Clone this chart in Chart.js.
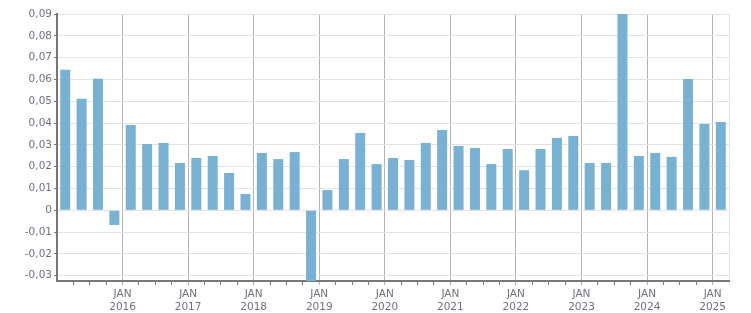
<!DOCTYPE html>
<html><head><meta charset="utf-8">
<script src="https://cdn.jsdelivr.net/npm/chart.js@4/dist/chart.umd.min.js"></script>
<style>html,body{margin:0;padding:0;background:#fff}#wrap{width:751px;height:313px}</style>
</head><body><div id="wrap"><canvas id="c" width="751" height="313"></canvas></div>
<script>
// Quarters 2015 Q1 .. 2025 Q1 (index = quarters since Jan 2015)
const quarters = ['2015Q1','2015Q2','2015Q3','2015Q4','2016Q1','2016Q2','2016Q3','2016Q4','2017Q1','2017Q2','2017Q3','2017Q4','2018Q1','2018Q2','2018Q3','2018Q4','2019Q1','2019Q2','2019Q3','2019Q4','2020Q1','2020Q2','2020Q3','2020Q4','2021Q1','2021Q2','2021Q3','2021Q4','2022Q1','2022Q2','2022Q3','2022Q4','2023Q1','2023Q2','2023Q3','2023Q4','2024Q1','2024Q2','2024Q3','2024Q4','2025Q1'];
const values = [0.0644,0.0511,0.0603,-0.0067,0.0391,0.0304,0.0309,0.0217,0.0240,0.0249,0.0171,0.0075,0.0263,0.0235,0.0267,-0.036,0.0093,0.0235,0.0355,0.0212,0.0240,0.0231,0.0309,0.0368,0.0295,0.0286,0.0212,0.0281,0.0184,0.0281,0.0332,0.0341,0.0217,0.0217,0.0905,0.0249,0.0263,0.0245,0.0602,0.0396,0.0405];
const yTicks = [-0.03,-0.02,-0.01,0,0.01,0.02,0.03,0.04,0.05,0.06,0.07,0.08,0.09];
const yMin = -0.0324, yMax = 0.09;
const xYearTicks = [4,8,12,16,20,24,28,32,36,40];
const xYearLabels = ['2016','2017','2018','2019','2020','2021','2022','2023','2024','2025'];
const monthLabel = 'JAN';

const txt = '#6f6f80';
const fmt = v => v === 0 ? '0' : v.toFixed(2).replace('.', ',');

new Chart(document.getElementById('c'), {
  type: 'bar',
  data: {
    datasets: [{
      data: values.map((v, i) => ({x: i + 0.5, y: v})),
      backgroundColor: '#79b1d3',
      borderWidth: 0,
      barPercentage: 0.61,
      categoryPercentage: 1
    }]
  },
  options: {
    responsive: false,
    animation: false,
    events: [],
    layout: {padding: {top: 14, right: 22, left: 0, bottom: 0}},
    plugins: {legend: {display: false}, tooltip: {enabled: false}},
    scales: {
      x: {
        type: 'linear',
        min: 0,
        max: quarters.length,
        offset: false,
        afterBuildTicks: s => { s.ticks = quarters.map((q, i) => ({value: i})).concat([{value: quarters.length}]); },
        afterFit: s => { s.height = 32; },
        grid: {
          offset: false,
          color: c => (xYearTicks.includes(c.tick && c.tick.value)) ? '#b4b4b4' : (c.tick && c.tick.value === quarters.length ? '#e2e2e2' : 'rgba(0,0,0,0)'),
          lineWidth: 1,
          tickColor: c => (c.tick && (c.tick.value === 0 || c.tick.value === quarters.length)) ? 'rgba(0,0,0,0)' : (xYearTicks.includes(c.tick && c.tick.value) ? '#b4b4b4' : '#777'),
          tickLength: 4,
          drawOnChartArea: true
        },
        border: {display: true, color: '#777', width: 2},
        ticks: {
          autoSkip: false,
          maxRotation: 0,
          padding: 3,
          color: txt,
          font: {family: 'DejaVu Sans', size: 10.5, lineHeight: 1.2},
          callback: v => { const k = xYearTicks.indexOf(v); return k >= 0 ? [monthLabel, xYearLabels[k]] : ''; }
        }
      },
      y: {
        min: yMin,
        max: yMax,
        afterBuildTicks: s => { s.ticks = yTicks.map(v => ({value: v})); },
        afterFit: s => { s.width = 57; },
        grid: {color: '#e2e2e2', lineWidth: 1, tickColor: '#777', tickLength: 3},
        border: {display: true, color: '#777', width: 2},
        ticks: {
          padding: 2,
          color: txt,
          font: {family: 'DejaVu Sans', size: 10.5},
          callback: v => fmt(v)
        }
      }
    }
  }
});
</script>
</body></html>
